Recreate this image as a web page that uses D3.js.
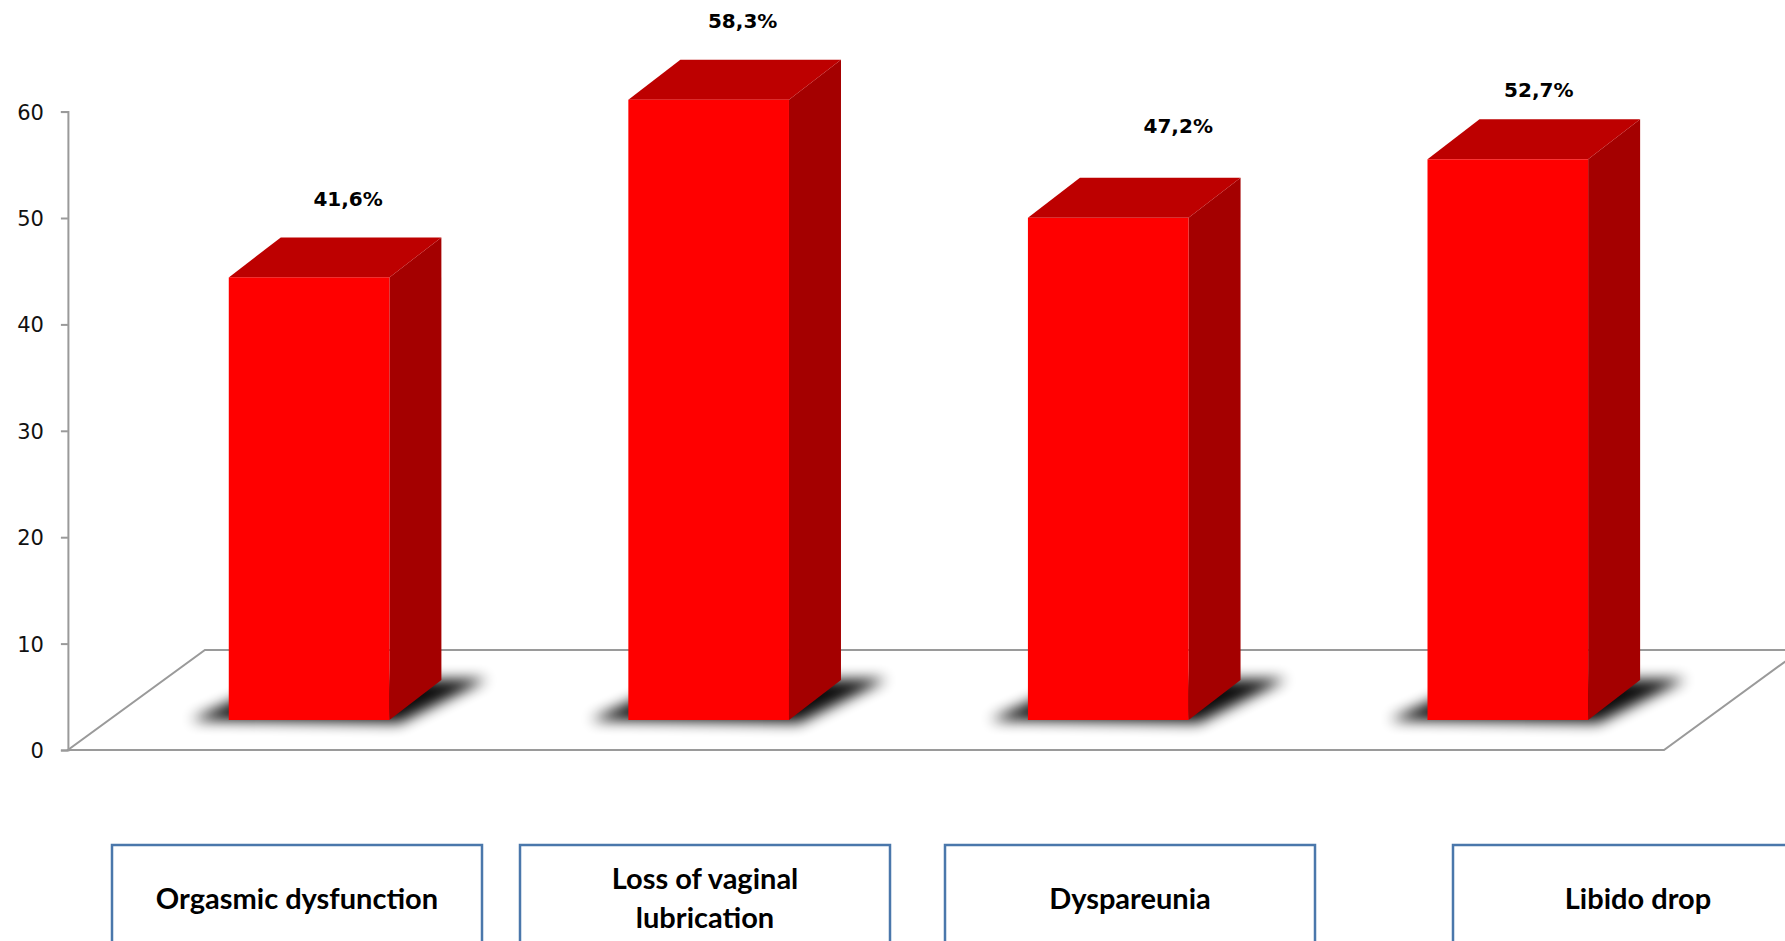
<!DOCTYPE html>
<html>
<head>
<meta charset="utf-8">
<script src="https://cdn.jsdelivr.net/npm/d3@7"></script>
<style>
    body { margin: 0; background: #fff; }
    svg { display: block; }
    .tick-label { font-family: "DejaVu Sans", Verdana, sans-serif; font-size: 21px; fill: #111; }
    .value-label { font-family: "DejaVu Sans", Verdana, sans-serif; font-size: 20px; font-weight: bold; fill: #000; }
    .box-label { font-family: Lato, "Open Sans", sans-serif; font-size: 29px; font-weight: bold; fill: #000; }
</style>
</head>
<body>
<div id="chart"></div>
<script>
const categories = ["Orgasmic dysfunction", "Loss of vaginal lubrication", "Dyspareunia", "Libido drop"];
const boxLines = [["Orgasmic dysfunction"], ["Loss of vaginal", "lubrication"], ["Dyspareunia"], ["Libido drop"]];
const values = [41.6, 58.3, 47.2, 52.7];
const valueLabels = ["41,6%", "58,3%", "47,2%", "52,7%"];
const yTicks = [0, 10, 20, 30, 40, 50, 60];

// layout tweaks (pixels), not data
const labelShift = [[13, -38], [8, -39], [44, -52], [5, -29]];
const boxLeft = [112, 520, 945, 1453];

const W = 1785, H = 941;
const DEPTH = {dx: 52, dy: -40};      // bar depth
const FLOOR = {dx: 137, dy: -100};    // floor depth
const BAR_BASE = 720;                 // front bottom of the bars

const svg = d3.select("#chart").append("svg")
    .attr("width", W)
    .attr("height", H);

const defs = svg.append("defs");
defs.append("filter")
    .attr("id", "blur")
    .attr("x", "-30%").attr("y", "-100%")
    .attr("width", "160%").attr("height", "300%")
    .append("feGaussianBlur")
    .attr("stdDeviation", 7);

const y = d3.scaleLinear().domain([0, 60]).range([750, 111.6]);
const x = d3.scaleBand()
    .domain(categories)
    .range([108.9, 1708])
    .paddingInner(0.598)
    .paddingOuter(0.3);

// floor
const floorFront = y(0);
const floorLeft = x.range()[0] - 41;
const floorRight = 1664;
svg.append("path")
    .attr("d", `M${floorLeft},${floorFront} L${floorRight},${floorFront} L${floorRight + FLOOR.dx},${floorFront + FLOOR.dy}` +
        ` L${floorLeft + FLOOR.dx},${floorFront + FLOOR.dy} Z`)
    .attr("fill", "none")
    .attr("stroke", "#9a9a9a")
    .attr("stroke-width", 2);

// y axis
const axis = svg.append("g")
    .attr("transform", `translate(${floorLeft},0)`)
    .call(d3.axisLeft(y).tickValues(yTicks).tickSize(7).tickFormat(d3.format("d")));
axis.select(".domain").attr("stroke", "#9a9a9a").attr("stroke-width", 2);
axis.selectAll(".tick line").attr("stroke", "#9a9a9a").attr("stroke-width", 2);
axis.selectAll(".tick text")
    .attr("class", "tick-label")
    .attr("x", -24)
    .attr("dy", "0.36em");

const heightOf = (v) => y(0) - y(v);

const bars = svg.selectAll("g.bar")
    .data(values)
    .join("g")
    .attr("class", "bar");

const w = x.bandwidth();

// blurred shadow under each bar
bars.append("path")
    .attr("d", (d, i) => {
        const x0 = x(categories[i]);
        return `M${x0 - 38},${BAR_BASE} L${x0 + w + 10},${BAR_BASE + 3} L${x0 + w + 98},${BAR_BASE - 41} L${x0 + 50},${BAR_BASE - 40} Z`;
    })
    .attr("fill", "#000")
    .attr("opacity", 0.95)
    .attr("filter", "url(#blur)");

// side face
bars.append("path")
    .attr("d", (d, i) => {
        const x1 = x(categories[i]) + w;
        const top = BAR_BASE - heightOf(d);
        return `M${x1},${BAR_BASE} L${x1 + DEPTH.dx},${BAR_BASE + DEPTH.dy} L${x1 + DEPTH.dx},${top + DEPTH.dy} L${x1},${top} Z`;
    })
    .attr("fill", "#a40000");

// top face
bars.append("path")
    .attr("d", (d, i) => {
        const x0 = x(categories[i]);
        const top = BAR_BASE - heightOf(d);
        return `M${x0},${top} L${x0 + w},${top} L${x0 + w + DEPTH.dx},${top + DEPTH.dy} L${x0 + DEPTH.dx},${top + DEPTH.dy} Z`;
    })
    .attr("fill", "#bd0000");

// front face
bars.append("rect")
    .attr("x", (d, i) => x(categories[i]))
    .attr("y", (d) => BAR_BASE - heightOf(d))
    .attr("width", w)
    .attr("height", (d) => heightOf(d))
    .attr("fill", "#ff0000");

// value labels
bars.append("text")
    .attr("class", "value-label")
    .attr("text-anchor", "middle")
    .attr("dominant-baseline", "central")
    .attr("x", (d, i) => x(categories[i]) + w / 2 + DEPTH.dx / 2 + labelShift[i][0])
    .attr("y", (d, i) => BAR_BASE - heightOf(d) + DEPTH.dy + labelShift[i][1])
    .text((d, i) => valueLabels[i]);

// category boxes
const BOX_W = 370;
const boxes = svg.selectAll("g.box")
    .data(categories)
    .join("g")
    .attr("class", "box")
    .attr("transform", (d, i) => `translate(${boxLeft[i]},845)`);

boxes.append("rect")
    .attr("width", BOX_W)
    .attr("height", 200)
    .attr("fill", "#fff")
    .attr("stroke", "#4a77ab")
    .attr("stroke-width", 2.5);

boxes.append("text")
    .attr("class", "box-label")
    .attr("text-anchor", "middle")
    .attr("x", BOX_W / 2)
    .selectAll("tspan")
    .data((d, i) => boxLines[i].map((t, j, arr) => ({t, j, n: arr.length})))
    .join("tspan")
    .attr("x", BOX_W / 2)
    .attr("y", (d) => 52 + (d.j - (d.n - 1) / 2) * 39)
    .attr("dominant-baseline", "central")
    .text((d) => d.t);
</script>
</body>
</html>
